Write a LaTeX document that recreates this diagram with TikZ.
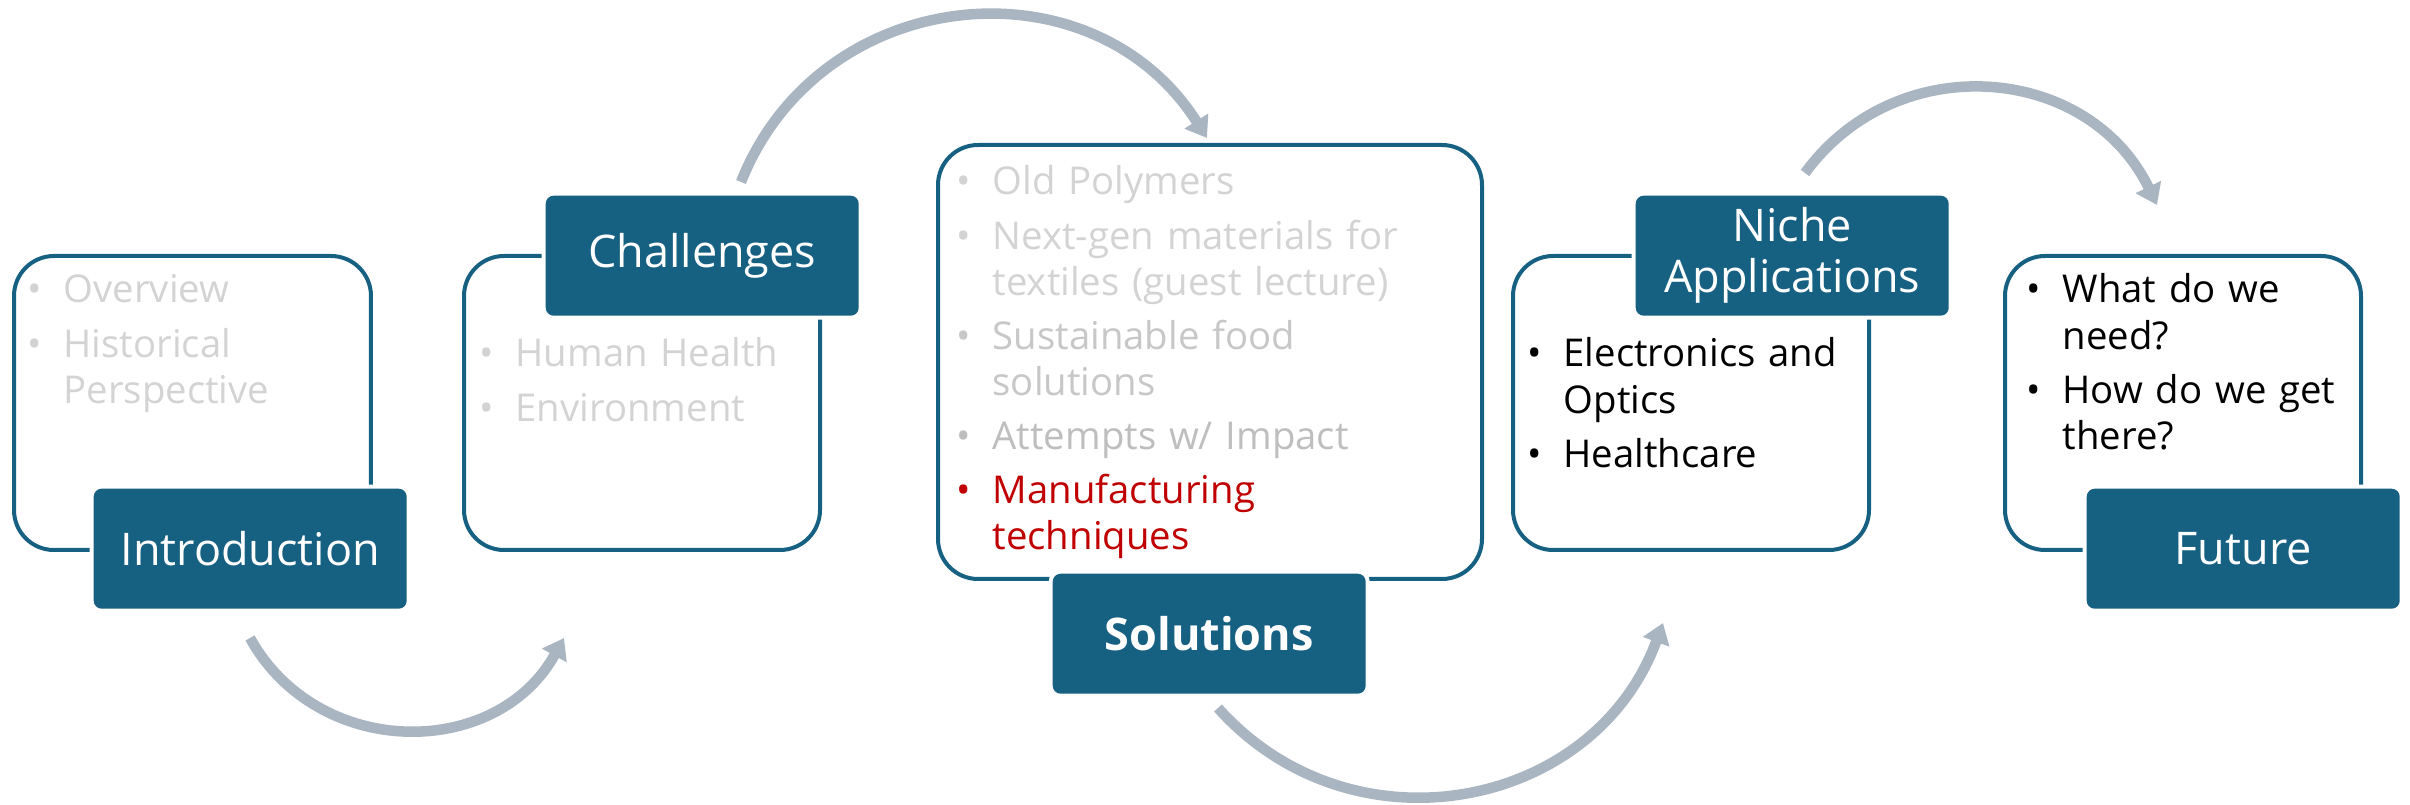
\documentclass[tikz,border=0pt]{standalone}
\usepackage{fontspec}
\setmainfont{Open Sans}
\usetikzlibrary{arrows.meta}

\definecolor{tealblue}{RGB}{22,96,130}
\definecolor{arrowgray}{RGB}{170,181,194}
\definecolor{fadegray}{RGB}{211,211,211}
\definecolor{softgray}{RGB}{199,199,199}
\definecolor{stonegray}{RGB}{190,190,190}
\definecolor{deepred}{RGB}{192,0,0}

\newcommand{\itm}[2][black]{\leavevmode\hangindent=3.6mm\hangafter=1{\color{#1}\makebox[3.6mm][l]{\textbullet}#2}\par\vskip0.8mm}

\begin{document}
\begin{tikzpicture}[x=0.1mm, y=-0.1mm,
        panel/.style={draw=tealblue, line width=0.4mm, rounded corners=4mm,
            anchor=north west, inner sep=0pt},
        tag/.style={fill=tealblue, rounded corners=0.8mm, anchor=north west,
            minimum width=31.3mm, minimum height=12mm, inner sep=0pt,
            text=white, align=center, font=\fontsize{12.8}{14.5}\selectfont,
            preaction={draw=white, line width=0.8mm}},
        items/.style={anchor=base west, inner sep=0pt,
            font=\fontsize{10.9}{13.1}\selectfont},
        flow/.style={draw=arrowgray, line width=1.05mm,
            -{Triangle[length=2mm, width=2.7mm]}}
    ]
    \useasboundingbox (0,0) rectangle (2410,805);

    \node[panel, minimum width=35.7mm, minimum height=29.4mm] (introbox) at (12,254) {};
    \node[panel, minimum width=35.6mm, minimum height=29.4mm] (chalbox) at (462,254) {};
    \node[panel, minimum width=54.4mm, minimum height=43.4mm] (solbox) at (936,143) {};
    \node[panel, minimum width=35.6mm, minimum height=29.4mm] (nichebox) at (1511,254) {};
    \node[panel, minimum width=35.6mm, minimum height=29.4mm] (futbox) at (2003,254) {};

    \node[tag] (intro) at (93,488) {Introduction};
    \node[tag] (chal) at (545,195) {Challenges};
    \node[tag, font=\fontsize{12.8}{14.5}\selectfont\bfseries] (sol) at (1052,573) {Solutions};
    \node[tag] (niche) at (1635,195) {Niche\\Applications};
    \node[tag] (fut) at (2086,488) {Future};

    \node[items, text width=40mm] (introlist) at (27,303) {%
        \itm[fadegray]{Overview}\itm[fadegray]{Historical\newline Perspective}};
    \node[items, text width=34mm] (challist) at (479,367) {%
        \itm[fadegray]{Human Health}\itm[fadegray]{Environment}};
    \node[items, text width=52mm] (sollist) at (956,195) {%
        \itm[fadegray]{Old Polymers}%
        \itm[fadegray]{Next-gen materials for\newline textiles (guest lecture)}%
        \itm[softgray]{Sustainable food\newline solutions}%
        \itm[stonegray]{Attempts w/ Impact}%
        \itm[deepred]{Manufacturing\newline techniques}};
    \node[items, text width=36mm] (nichelist) at (1527,367) {%
        \itm{Electronics and\newline Optics}\itm{Healthcare}};
    \node[items, text width=34mm] (futlist) at (2026,303) {%
        \itm{What do we\newline need?}\itm{How do we get\newline there?}};

    \coordinate (a1) at (250,638);
    \coordinate (a2) at (564,638);
    \coordinate (b1) at (741,182);
    \coordinate (b2) at (1207,138);
    \coordinate (c1) at (1218,708);
    \coordinate (c2) at (1663,623);
    \coordinate (d1) at (1805,173);
    \coordinate (d2) at (2157,205);

    \draw[flow] (a1) to[bend right=61, looseness=1.14] (a2);
    \draw[flow] (b1) to[bend left=63, looseness=1.17] (b2);
    \draw[flow] (c1) to[bend right=59, looseness=1.13] (c2);
    \draw[flow] (d1) to[bend left=59, looseness=1.13] (d2);
\end{tikzpicture}
\end{document}
